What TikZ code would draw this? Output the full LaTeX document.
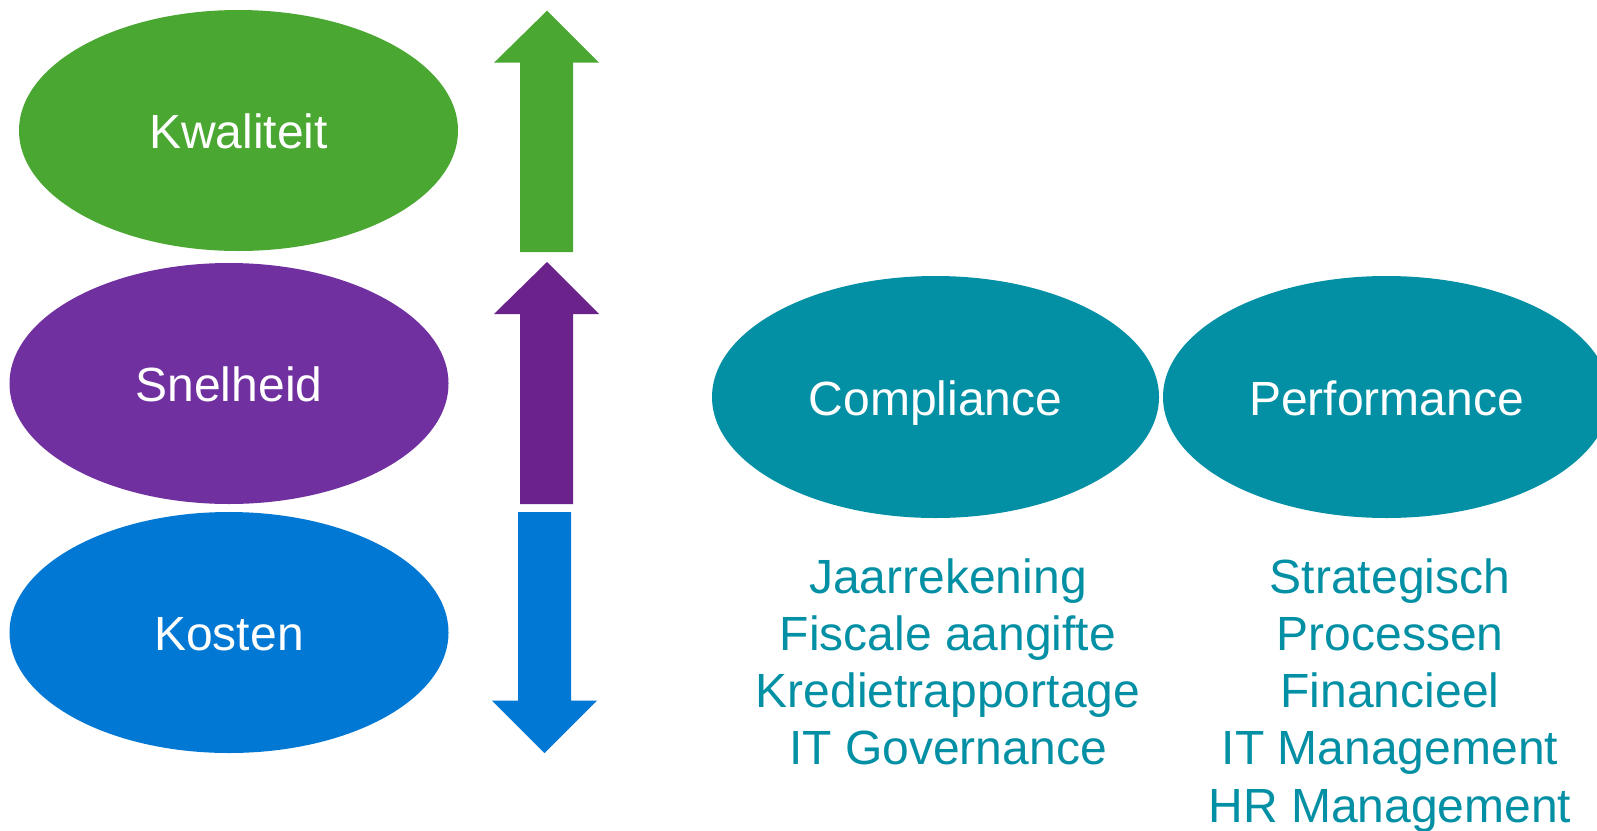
\documentclass[tikz,border=0pt]{standalone}
\usepackage{fontspec}
\setmainfont{Liberation Sans}
\usetikzlibrary{shapes.geometric}
\definecolor{kgreen}{RGB}{74,168,50}
\definecolor{kpurple}{RGB}{112,48,160}
\definecolor{kpurplearrow}{RGB}{107,35,139}
\definecolor{kblue}{RGB}{0,120,212}
\definecolor{kteal}{RGB}{3,144,165}
\tikzset{
  blob/.style={ellipse, draw=none, inner sep=0pt, minimum width=439pt, minimum height=241pt,
    text=white, font=\fontsize{48}{57}\selectfont, text height=36pt, text depth=0pt},
  listline/.style={anchor=base, text=kteal, font=\fontsize{48}{57}\selectfont, inner sep=0pt},
}
\begin{document}
\begin{tikzpicture}[x=1pt,y=-1pt]
\useasboundingbox (0,0) rectangle (1597,830);
\fill[white] (0,0) rectangle (1597,830);

% left ellipses
\node[blob, fill=kgreen]  (kwal) at (238.5,130.5) {Kwaliteit};
\node[blob, fill=kpurple] (snel) at (229,383.5) {Snelheid};
\node[blob, fill=kblue]   (kost) at (229,632.5) {Kosten};

% arrows
\fill[kgreen] (547,10.7) -- (599,62.7) -- (573,62.7) -- (573,252) -- (520,252) -- (520,62.7) -- (494,62.7) -- cycle;
\fill[kpurplearrow] (547,262) -- (599,314) -- (573,314) -- (573,504) -- (520,504) -- (520,314) -- (494,314) -- cycle;
\fill[kblue] (544.5,753) -- (597,700.7) -- (571,700.7) -- (571,512) -- (518,512) -- (518,700.7) -- (492,700.7) -- cycle;

% right ellipses
\node[blob, fill=kteal, minimum width=447pt, minimum height=242pt] (comp) at (935.5,397) {Compliance};
\node[blob, fill=kteal, minimum width=447pt, minimum height=242pt] (perf) at (1386.5,397) {Performance};

% lists
\node[listline] (c1) at (948,593) {Jaarrekening};
\node[listline] (c2) at (948,650.3) {Fiscale aangifte};
\node[listline] (c3) at (948,707.5) {Kredietrapportage};
\node[listline] (c4) at (948,764.8) {IT Governance};

\node[listline] (p1) at (1390,593) {Strategisch};
\node[listline] (p2) at (1390,650.3) {Processen};
\node[listline] (p3) at (1390,707.5) {Financieel};
\node[listline] (p4) at (1390,764.8) {IT Management};
\node[listline] (p5) at (1390,822) {HR Management};
\end{tikzpicture}
\end{document}
